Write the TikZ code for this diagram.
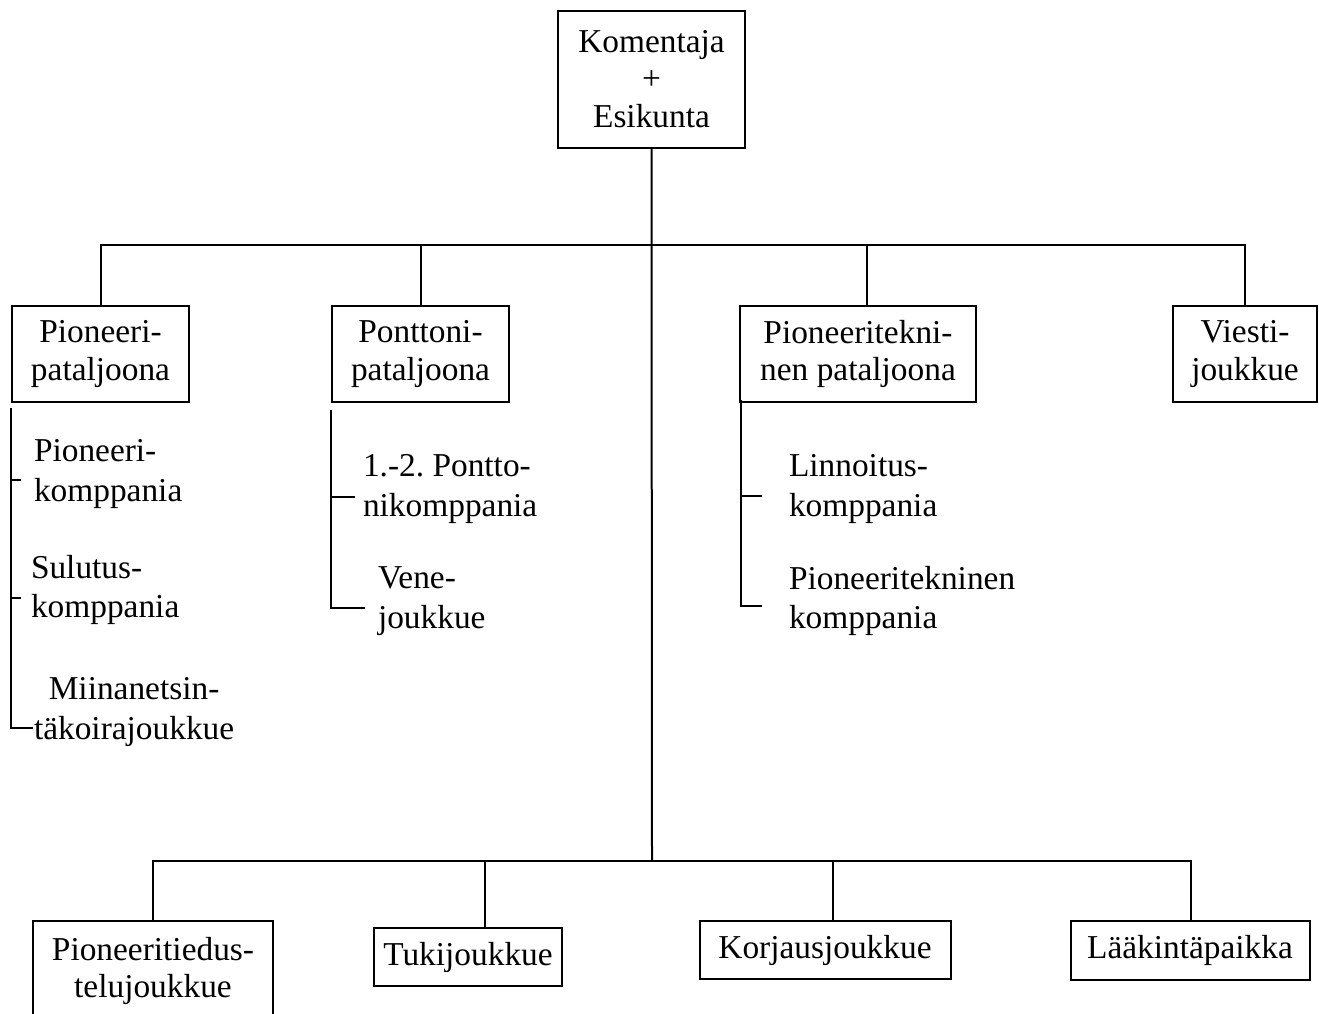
\documentclass[tikz,border=0pt]{standalone}
\usepackage{fontspec}
\setmainfont{Liberation Serif}
\begin{document}
\frenchspacing
\begin{tikzpicture}[x=1bp,y=-1bp, line width=2bp,
  box/.style={draw, line width=2bp, align=center, inner sep=0pt, font=\fontsize{33.5}{38}\selectfont},
  item/.style={inner sep=0pt, align=left, anchor=west, font=\fontsize{33.5}{40}\selectfont}]
\useasboundingbox (0,0) rectangle (1319,1013);
\clip (0,0) rectangle (1319,1013);
% boxes
\node[box, minimum width=187bp, minimum height=137bp] (top) at (651.5,79) {Komentaja\\+\\Esikunta};
\node[box, minimum width=177bp, minimum height=96bp] (pp) at (100.5,354) {Pioneeri-\\pataljoona};
\node[box, minimum width=177bp, minimum height=96bp] (pt) at (420.5,354) {Ponttoni-\\pataljoona};
\node[box, minimum width=236bp, minimum height=96bp] (tk) at (858,354) {Pioneeritekni-\\nen pataljoona};
\node[box, minimum width=144bp, minimum height=96bp] (vj) at (1245,354) {Viesti-\\joukkue};
\node[box, minimum width=240bp, minimum height=100bp] (td) at (153,971) {Pioneeritiedus-\\telujoukkue};
\node[box, minimum width=188bp, minimum height=58bp] (tu) at (468,957) {Tukijoukkue};
\node[box, minimum width=251bp, minimum height=58bp] (kj) at (825,950) {Korjausjoukkue};
\node[box, minimum width=239bp, minimum height=59bp] (lp) at (1190,950.5) {Lääkintäpaikka};
% sub items
\node[item] (pk) at (33,474) {Pioneeri-\\komppania};
\node[item] (sk) at (30,590) {Sulutus-\\komppania};
\node[item, align=center] (mj) at (33,712) {Miinanetsin-\\täkoirajoukkue};
\node[item] (pok) at (362,489) {1.-2. Pontto-\\nikomppania};
\node[item] (vn) at (377,601) {Vene-\\joukkue};
\node[item] (lk) at (788,489) {Linnoitus-\\komppania};
\node[item] (ptk) at (788,601) {Pioneeritekninen\\komppania};
% connector coordinates
\coordinate (up) at (652,245);
\coordinate (lo) at (652,861);
% trunk
\draw (top.south) -- (lo);
% upper level
\draw (pp.north) |- (up) -| (vj.north);
\draw (pt.north) -- (pt.north |- up);
\draw ([xshift=9bp]tk.north) -- ([xshift=9bp]tk.north |- up);
% lower level
\draw (td.north) |- (lo) -| ([xshift=1bp]lp.north);
\draw ([xshift=17bp]tu.north) -- ([xshift=17bp]tu.north |- lo);
\draw ([xshift=8bp]kj.north) -- ([xshift=8bp]kj.north |- lo);
% brackets
\coordinate (b1) at (11,408);
\coordinate (b1k) at (11,480);
\coordinate (b1s) at (11,598);
\coordinate (b1e) at (11,728);
\draw (b1) -- (b1e) -- (b1e -| mj.west);
\draw (b1k) -- ++(10,0);
\draw (b1s) -- ++(10,0);
\coordinate (b2) at (331,410);
\coordinate (b2k) at (331,497);
\coordinate (b2e) at (331,608);
\draw (b2) -- (b2e) -- ++(34,0);
\draw (b2k) -- ++(24,0);
\coordinate (b3) at (741,400);
\coordinate (b3k) at (741,496);
\coordinate (b3e) at (741,606);
\draw (b3) -- (b3e) -- ++(21,0);
\draw (b3k) -- ++(21,0);
\end{tikzpicture}
\end{document}
